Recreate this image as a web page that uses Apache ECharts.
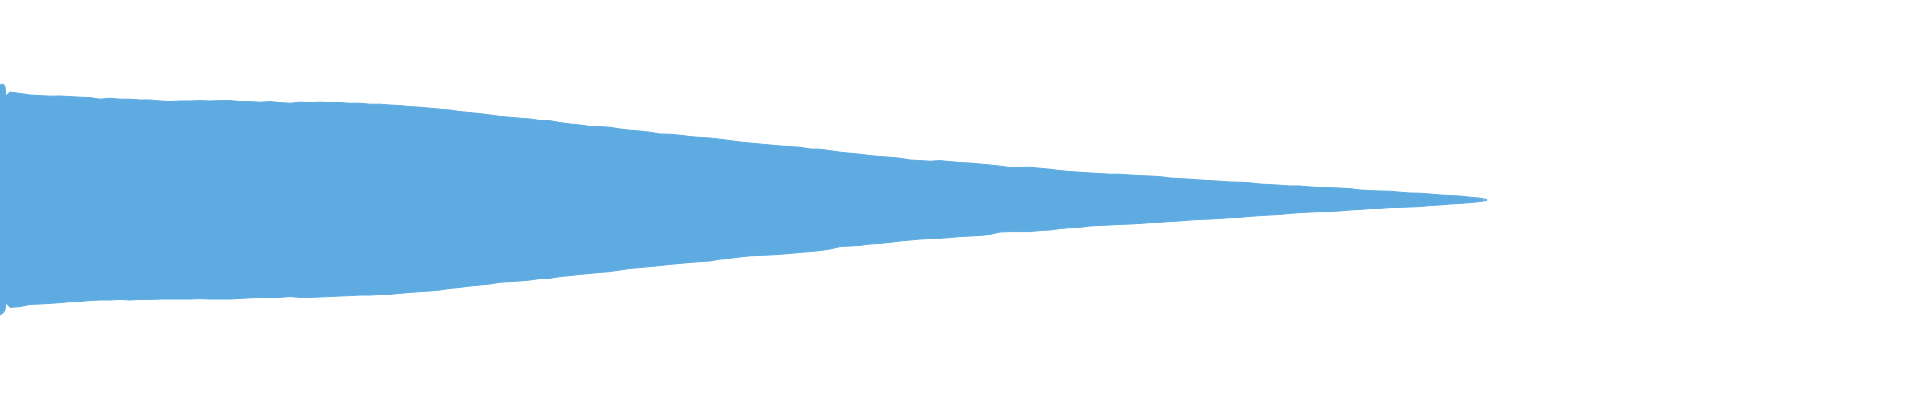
<!DOCTYPE html>
<html>
<head>
<meta charset="utf-8">
<script src="https://cdn.jsdelivr.net/npm/echarts@6/dist/echarts.min.js"></script>
<style>
html,body{margin:0;padding:0;background:#fff;}
#chart{width:1920px;height:400px;}
</style>
</head>
<body>
<div id="chart"></div>
<script>
// Sample times (ms) at which the waveform envelope was read
const times = [0,3,5,6,10,20,30,40,50,60,70,80,90,100,110,120,130,140,150,160,170,180,190,200,210,220,230,240,250,260,270,280,290,300,310,320,330,340,350,360,370,380,390,400,410,420,430,440,450,460,470,480,490,500,510,520,530,540,550,560,570,580,590,600,610,620,630,640,650,660,670,680,690,700,710,720,730,740,750,760,770,780,790,800,810,820,830,840,850,860,870,880,890,900,910,920,930,940,950,960,970,980,990,1000,1010,1020,1030,1040,1050,1060,1070,1080,1090,1100,1110,1120,1130,1140,1150,1160,1170,1180,1190,1200,1210,1220,1230,1240,1250,1260,1270,1280,1290,1300,1310,1320,1330,1340,1350,1360,1370,1380,1390,1400,1410,1420,1430,1440,1450,1460,1470,1480,1487];

// Upper envelope (peak amplitude)
const upper = [0.575,0.58,0.567,0.52,0.54,0.533,0.525,0.522,0.519,0.52,0.517,0.514,0.512,0.504,0.509,0.504,0.504,0.50,0.50,0.495,0.492,0.495,0.495,0.497,0.495,0.497,0.497,0.492,0.492,0.489,0.492,0.487,0.484,0.489,0.487,0.489,0.487,0.487,0.484,0.484,0.479,0.479,0.475,0.472,0.467,0.464,0.459,0.454,0.45,0.442,0.437,0.432,0.425,0.418,0.414,0.409,0.405,0.397,0.397,0.387,0.38,0.375,0.367,0.367,0.364,0.355,0.349,0.345,0.339,0.33,0.329,0.324,0.317,0.313,0.31,0.304,0.297,0.29,0.285,0.28,0.275,0.27,0.267,0.264,0.255,0.254,0.247,0.239,0.234,0.229,0.222,0.217,0.214,0.209,0.20,0.197,0.194,0.197,0.192,0.187,0.185,0.18,0.175,0.169,0.162,0.162,0.164,0.159,0.154,0.147,0.142,0.139,0.135,0.132,0.129,0.129,0.125,0.122,0.12,0.117,0.11,0.107,0.104,0.10,0.097,0.094,0.09,0.089,0.086,0.08,0.077,0.074,0.07,0.07,0.065,0.062,0.062,0.06,0.057,0.05,0.047,0.045,0.044,0.039,0.035,0.034,0.03,0.025,0.022,0.02,0.014,0.009,0.002];

// Lower envelope (trough amplitude)
const lower = [-0.575,-0.565,-0.55,-0.515,-0.537,-0.533,-0.522,-0.52,-0.517,-0.513,-0.508,-0.508,-0.503,-0.50,-0.50,-0.497,-0.50,-0.497,-0.497,-0.495,-0.495,-0.495,-0.495,-0.493,-0.495,-0.495,-0.495,-0.492,-0.489,-0.487,-0.488,-0.487,-0.483,-0.487,-0.487,-0.485,-0.483,-0.48,-0.478,-0.475,-0.475,-0.472,-0.472,-0.467,-0.462,-0.458,-0.455,-0.45,-0.442,-0.437,-0.43,-0.425,-0.42,-0.411,-0.408,-0.405,-0.40,-0.392,-0.392,-0.383,-0.378,-0.372,-0.367,-0.362,-0.358,-0.35,-0.342,-0.338,-0.333,-0.328,-0.322,-0.317,-0.312,-0.308,-0.305,-0.295,-0.292,-0.285,-0.279,-0.277,-0.275,-0.272,-0.267,-0.262,-0.258,-0.253,-0.245,-0.233,-0.23,-0.227,-0.22,-0.217,-0.212,-0.205,-0.20,-0.195,-0.192,-0.192,-0.188,-0.183,-0.18,-0.177,-0.172,-0.16,-0.158,-0.158,-0.158,-0.153,-0.15,-0.143,-0.138,-0.137,-0.13,-0.127,-0.125,-0.122,-0.12,-0.117,-0.113,-0.112,-0.108,-0.105,-0.10,-0.097,-0.095,-0.092,-0.088,-0.087,-0.082,-0.078,-0.075,-0.072,-0.067,-0.063,-0.06,-0.058,-0.058,-0.055,-0.05,-0.047,-0.043,-0.042,-0.038,-0.037,-0.035,-0.033,-0.028,-0.025,-0.02,-0.017,-0.013,-0.008,-0.002];

const color = '#5dabe1';
const chart = echarts.init(document.getElementById('chart'));
const mk = arr => times.map((t, i) => [t, arr[i]]);
chart.setOption({
  animation: false,
  grid: {left: 0, right: 0, top: 0, bottom: 0},
  xAxis: {type: 'value', min: 0, max: 1920, show: false},
  yAxis: {type: 'value', min: -1, max: 1, show: false},
  series: [
    {type: 'line', data: mk(upper), symbol: 'none', lineStyle: {color: color, width: 1}, areaStyle: {color: color, opacity: 1}, itemStyle: {color: color}},
    {type: 'line', data: mk(lower), symbol: 'none', lineStyle: {color: color, width: 1}, areaStyle: {color: color, opacity: 1}, itemStyle: {color: color}}
  ]
});
</script>
</body>
</html>
